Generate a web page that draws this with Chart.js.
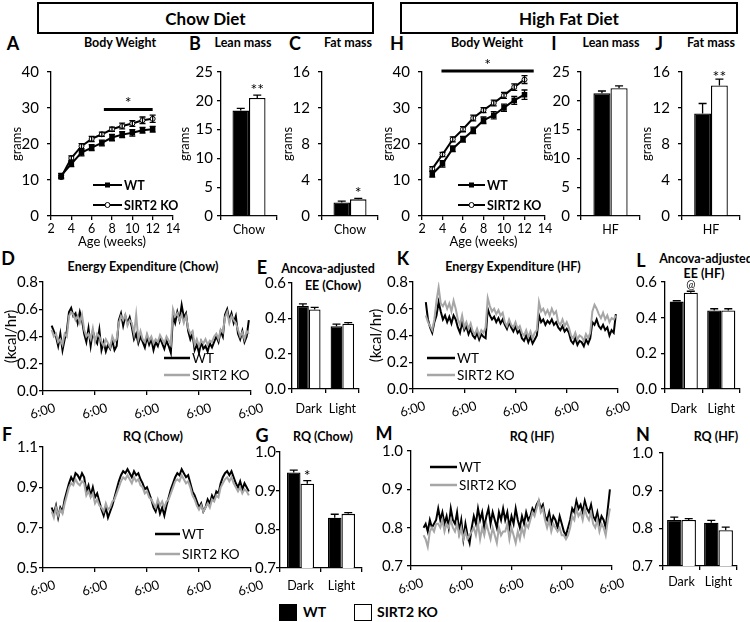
<!DOCTYPE html>
<html>
<head>
<meta charset="utf-8">
<script src="https://cdn.jsdelivr.net/npm/chart.js@4/dist/chart.umd.min.js"></script>
<style>
  body { margin: 0; background: #fff; font-family: Lato, sans-serif; }
  #fig { position: relative; width: 750px; height: 622px; overflow: hidden; }
  #fig canvas { position: absolute; }
  .tx { position: absolute; white-space: nowrap; color: #000; line-height: 1; }
  .box { position: absolute; border: 2px solid #000; box-sizing: border-box; display: flex;
         align-items: center; justify-content: center; font-weight: bold; font-size: 17px; }
  .sq { position: absolute; border: 1.5px solid #000; box-sizing: border-box; }
</style>
</head>
<body>
<div id="fig"></div>
<script>
// ---- data ----
const weeks = [3, 4, 5, 6, 7, 8, 9, 10, 11, 12];
const chowBwWT = [11.2, 14.5, 17.6, 19.0, 20.3, 21.8, 22.6, 23.1, 23.8, 24.1];
const chowBwWTErr = [0.6, 0.8, 0.9, 0.8, 0.8, 0.9, 0.8, 0.9, 0.8, 0.8];
const chowBwKO = [10.8, 16.1, 19.4, 21.4, 22.7, 24.1, 25.0, 25.7, 26.6, 27.0];
const chowBwKOErr = [0.5, 0.6, 0.7, 0.7, 0.6, 0.6, 0.8, 0.8, 0.9, 1.0];
const hfBwWT = [11.6, 14.5, 18.7, 21.3, 23.8, 26.6, 28.0, 30.1, 32.1, 33.7];
const hfBwWTErr = [0.8, 0.9, 0.8, 0.8, 0.9, 0.9, 1.0, 1.0, 1.1, 1.3];
const hfBwKO = [13.1, 17.1, 21.3, 24.1, 27.2, 29.4, 31.4, 33.5, 35.8, 37.9];
const hfBwKOErr = [0.6, 0.6, 0.7, 0.7, 0.8, 0.7, 0.8, 0.8, 0.9, 1.1];

const chowCat = ['Chow'];
const hfCat = ['HF'];
const phases = ['Dark', 'Light'];

const chowLeanWT = [18.3], chowLeanWTErr = [0.4], chowLeanKO = [20.5], chowLeanKOErr = [0.5];
const chowFatWT = [1.5], chowFatWTErr = [0.15], chowFatKO = [1.85], chowFatKOErr = [0.1];
const hfLeanWT = [21.3], hfLeanWTErr = [0.4], hfLeanKO = [22.2], hfLeanKOErr = [0.4];
const hfFatWT = [11.4], hfFatWTErr = [1.1], hfFatKO = [14.5], hfFatKOErr = [0.7];

const eeChowWT = [0.47, 0.355], eeChowWTErr = [0.012, 0.012];
const eeChowKO = [0.45, 0.37], eeChowKOErr = [0.012, 0.006];
const eeHfWT = [0.49, 0.44], eeHfWTErr = [0.005, 0.01];
const eeHfKO = [0.54, 0.44], eeHfKOErr = [0.008, 0.01];
const rqChowWT = [0.947, 0.83], rqChowWTErr = [0.006, 0.009];
const rqChowKO = [0.918, 0.84], rqChowKOErr = [0.008, 0.003];
const rqHfWT = [0.822, 0.815], rqHfWTErr = [0.008, 0.006];
const rqHfKO = [0.822, 0.795], rqHfKOErr = [0.004, 0.008];

// hourly traces, hours counted from the first 6:00
const eeChowStart = 4;
const eeChowTraceWT = [0.48,0.44,0.40,0.33,0.42,0.30,0.38,0.44, 0.58,0.61,0.55,0.57,0.50,0.58,0.52,
  0.42,0.36,0.46,0.33,0.44,0.38,0.35,0.45, 0.30,0.36,0.29,0.34,0.31,0.37,0.30,0.33,
  0.52,0.57,0.48,0.55,0.50,0.54,0.47, 0.38,0.42,0.35,0.40,
  0.36,0.32,0.40,0.34,0.38,0.30,0.36,0.33,0.39,0.35,0.31,0.37,0.33,0.28,
  0.55,0.50,0.58,0.52,0.63,0.54,0.57, 0.44,0.38,0.42,
  0.30,0.34,0.28,0.36,0.31,0.33,0.29,0.35,0.32,0.36, 0.40,0.36,0.44,0.40,
  0.56,0.60,0.52,0.57,0.50,0.55, 0.42,0.38,0.44,0.36,0.40,0.52];
const eeChowTraceKO = [0.45,0.40,0.42,0.36,0.38,0.34,0.42,0.40, 0.55,0.58,0.56,0.52,0.55,0.50,0.56,
  0.45,0.40,0.42,0.38,0.46,0.36,0.42,0.40, 0.36,0.33,0.38,0.35,0.32,0.40,0.36,0.38,
  0.50,0.55,0.52,0.56,0.48,0.52,0.50, 0.42,0.56,0.38,0.44,
  0.38,0.36,0.42,0.37,0.40,0.35,0.38,0.36,0.41,0.38,0.35,0.40,0.37,0.34,
  0.60,0.55,0.57,0.52,0.56,0.50,0.55, 0.46,0.42,0.44,
  0.34,0.38,0.33,0.37,0.35,0.38,0.34,0.37,0.36,0.40, 0.42,0.38,0.45,0.43,
  0.54,0.58,0.50,0.55,0.52,0.50, 0.45,0.40,0.43,0.38,0.44,0.42];

const eeHfStart = 6;
const eeHfTraceWT = [0.65,0.52,0.46,0.42,0.50, 0.55,0.65,0.58, 0.52,0.55,0.50,0.54,0.49,0.55,0.52,
  0.46,0.42,0.50,0.44,0.47,0.41,0.45, 0.40,0.38,0.42,0.37,0.41,0.39,0.38,
  0.60,0.55,0.52,0.54,0.50,0.53,0.49,0.52, 0.48,0.45,0.50,0.46,0.43,0.47,0.42,0.44,
  0.38,0.36,0.40,0.35,0.39,0.34,0.37,0.40, 0.55,0.50,0.52,0.48,0.51,0.49,0.52,0.48,0.50,
  0.46,0.44,0.47,0.43,0.45,0.42, 0.36,0.34,0.38,0.33,0.36,0.35,0.32,0.37,0.34,0.38,
  0.50,0.48,0.52, 0.47,0.45,0.48,0.44,0.46,0.40,0.44,0.42,0.56];
const eeHfTraceKO = [0.55,0.50,0.47,0.44,0.52, 0.66,0.76,0.64, 0.62,0.65,0.60,0.64,0.58,0.66,0.60,
  0.52,0.48,0.55,0.46,0.50,0.45,0.49, 0.43,0.41,0.45,0.40,0.44,0.42,0.46,
  0.68,0.62,0.58,0.60,0.56,0.59,0.55,0.57, 0.50,0.47,0.52,0.48,0.46,0.50,0.45,0.47,
  0.42,0.40,0.44,0.39,0.43,0.38,0.42,0.44, 0.65,0.58,0.60,0.56,0.59,0.55,0.60,0.56,0.58,
  0.50,0.48,0.52,0.47,0.50,0.46, 0.40,0.38,0.42,0.37,0.40,0.39,0.36,0.41,0.38,0.42,
  0.58,0.63,0.60, 0.56,0.53,0.57,0.52,0.55,0.50,0.53,0.52,0.55];

const rqChowStart = 4;
const rqChowTraceWT = [0.80,0.77,0.81,0.75,0.80,0.78, 0.84,0.88,0.92,0.95,0.93,0.97, 0.96,0.94,0.97,0.95,
  0.88,0.91,0.86,0.90, 0.85,0.87,0.83, 0.79,0.76,0.80,0.75,0.78,0.81,
  0.85,0.89,0.93,0.96,0.98,0.97,0.99, 0.97,0.95,0.98,0.96,0.97,0.94, 0.92,0.89,0.90,0.87,
  0.84,0.80,0.78,0.82,0.77,0.80,0.76,0.81, 0.85,0.89,0.92,0.95,0.97,0.96,0.99, 0.97,0.95,0.96,
  0.92,0.88,0.86,0.83,0.80,0.82,0.78,0.80, 0.84,0.82,0.86,0.84,0.88,0.87,0.92,
  0.95,0.97,0.98,0.96,0.98,0.95, 0.92,0.90,0.93,0.89,0.92,0.90,0.88];
const rqChowTraceKO = [0.78,0.75,0.80,0.76,0.79,0.77, 0.82,0.86,0.90,0.92,0.91,0.94, 0.92,0.91,0.93,0.92,
  0.86,0.88,0.85,0.87, 0.82,0.84,0.81, 0.80,0.78,0.82,0.79,0.80,0.83,
  0.84,0.87,0.90,0.93,0.95,0.94,0.96, 0.94,0.92,0.95,0.93,0.94,0.91, 0.90,0.87,0.88,0.85,
  0.84,0.82,0.80,0.84,0.81,0.83,0.80,0.83, 0.84,0.87,0.90,0.93,0.94,0.93,0.96, 0.94,0.92,0.93,
  0.90,0.86,0.84,0.81,0.79,0.81,0.78,0.80, 0.82,0.80,0.84,0.83,0.86,0.85,0.90,
  0.92,0.94,0.95,0.93,0.95,0.92, 0.90,0.88,0.90,0.87,0.89,0.88,0.86];

const rqHfStart = 6;
const rqHfTraceWT = [0.80,0.81,0.79,0.82,0.80,0.81,0.82, 0.85,0.82,0.84,0.81,0.83,0.80,0.85,0.82,0.81,0.84,
  0.79,0.82,0.77,0.81,0.78,0.76,0.80,
  0.83,0.81,0.85,0.82,0.84,0.80,0.83,0.85,0.81,0.84,0.82,0.80,0.84,0.82,0.85,
  0.82,0.84,0.80,0.83,0.81,0.85,0.82,0.80,0.83,0.81,0.84,0.82,
  0.83,0.85,0.84,0.86,0.87,0.85,0.86, 0.83,0.82,0.84,0.81,0.83,0.82,0.80,0.83,0.81,0.79,
  0.78,0.80,0.82, 0.85,0.84,0.87,0.85,0.86,0.84,0.87,0.85,0.84,0.86,
  0.83,0.82,0.84,0.81,0.83,0.82,0.80,0.85,0.90];
const rqHfTraceKO = [0.78,0.77,0.75,0.79,0.80,0.79,0.81, 0.81,0.80,0.82,0.79,0.81,0.80,0.82,0.80,0.79,0.81,
  0.78,0.80,0.77,0.79,0.77,0.78,0.79,
  0.80,0.78,0.81,0.77,0.80,0.78,0.81,0.79,0.77,0.80,0.78,0.76,0.80,0.78,0.79,
  0.79,0.81,0.77,0.80,0.78,0.76,0.79,0.77,0.80,0.78,0.81,0.80,
  0.82,0.84,0.83,0.85,0.87,0.84,0.85, 0.82,0.80,0.82,0.79,0.81,0.80,0.79,0.80,0.78,0.78,
  0.77,0.78,0.80, 0.83,0.82,0.85,0.83,0.84,0.82,0.85,0.83,0.82,0.84,
  0.81,0.80,0.82,0.79,0.81,0.80,0.78,0.82,0.85];

// ---- setup ----
Chart.defaults.font.family = 'Lato';
Chart.defaults.color = '#000';
const fig = document.getElementById('fig');
const GRAY = '#a6a6a6';

function text(str, x, y, size, bold, align) {
  const d = document.createElement('div');
  d.className = 'tx';
  d.textContent = str;
  d.style.left = x + 'px';
  d.style.top = y + 'px';
  d.style.fontSize = size + 'px';
  d.style.fontWeight = bold ? 'bold' : 'normal';
  d.style.transform = align === 'l' ? 'translate(0,-50%)' : 'translate(-50%,-50%)';
  fig.appendChild(d);
}

// error bars: bars get a cap above, line points get both sides
const errorBars = {
  id: 'errorBars',
  afterDatasetsDraw(chart) {
    const ctx = chart.ctx, ys = chart.scales.y;
    const both = chart.config.type === 'line';
    chart.data.datasets.forEach((ds, di) => {
      if (!ds.errors) return;
      const cap = both ? 3 : 4;
      ctx.save();
      ctx.strokeStyle = '#000';
      ctx.lineWidth = 1.3;
      chart.getDatasetMeta(di).data.forEach((el, i) => {
        const raw = ds.data[i];
        const v = typeof raw === 'object' ? raw.y : raw;
        const e = ds.errors[i];
        const yt = ys.getPixelForValue(v + e);
        const yb = ys.getPixelForValue(both ? v - e : v);
        ctx.beginPath();
        ctx.moveTo(el.x, yb); ctx.lineTo(el.x, yt);
        ctx.moveTo(el.x - cap, yt); ctx.lineTo(el.x + cap, yt);
        if (both) { ctx.moveTo(el.x - cap, yb); ctx.lineTo(el.x + cap, yb); }
        ctx.stroke();
      });
      ctx.restore();
    });
  }
};

// stars and significance bars
const sigMarks = {
  id: 'sigMarks',
  afterDraw(chart, args, o) {
    if (!o || !o.marks) return;
    const ctx = chart.ctx, xs = chart.scales.x, ys = chart.scales.y;
    ctx.save();
    ctx.fillStyle = '#000';
    ctx.strokeStyle = '#000';
    ctx.textAlign = 'center';
    ctx.textBaseline = 'alphabetic';
    o.marks.forEach(m => {
      ctx.font = (m.size || 16) + 'px Lato';
      if (m.ds !== undefined) {
        const ds = chart.data.datasets[m.ds];
        const el = chart.getDatasetMeta(m.ds).data[m.i];
        const top = ys.getPixelForValue(ds.data[m.i] + ds.errors[m.i]);
        ctx.fillText(m.text, el.x, top + (m.dy || 0));
      } else {
        const x0 = xs.getPixelForValue(m.from), x1 = xs.getPixelForValue(m.to);
        const y = ys.getPixelForValue(m.at);
        ctx.lineWidth = 3;
        ctx.beginPath(); ctx.moveTo(x0, y); ctx.lineTo(x1, y); ctx.stroke();
        ctx.fillText(m.text, (x0 + x1) / 2, y - 1);
      }
    });
    ctx.restore();
  }
};

// small legend drawn inside a panel, rows in page coordinates
const lineKey = {
  id: 'lineKey',
  afterDraw(chart, args, o) {
    if (!o || !o.rows) return;
    const ctx = chart.ctx, ox = chart.canvas.offsetLeft, oy = chart.canvas.offsetTop;
    ctx.save();
    ctx.font = (o.bold ? 'bold ' : '') + o.size + 'px Lato';
    ctx.textBaseline = 'middle';
    chart.data.datasets.forEach((ds, i) => {
      const y = o.rows[i] - oy, x0 = o.x0 - ox, x1 = o.x1 - ox;
      ctx.strokeStyle = ds.borderColor;
      ctx.lineWidth = o.lw || ds.borderWidth;
      ctx.beginPath(); ctx.moveTo(x0, y); ctx.lineTo(x1, y); ctx.stroke();
      if (ds.pointRadius) {
        const mx = (x0 + x1) / 2, r = ds.pointRadius;
        ctx.fillStyle = ds.pointBackgroundColor;
        ctx.strokeStyle = '#000';
        ctx.lineWidth = 1;
        if (ds.pointStyle === 'rect') { ctx.fillRect(mx - r, y - r, 2 * r, 2 * r); }
        else { ctx.beginPath(); ctx.arc(mx, y, r, 0, Math.PI * 2); ctx.fill(); ctx.stroke(); }
      }
      ctx.fillStyle = '#000';
      ctx.fillText(ds.label, x1 + 2, y + 1);
    });
    ctx.restore();
  }
};

function panel(box, cfg) {
  const c = document.createElement('canvas');
  const L = box.l - box.lw, T = box.t - box.tp;
  c.width = box.r + box.rp - L;
  c.height = box.b + box.bh - T;
  c.style.left = L + 'px';
  c.style.top = T + 'px';
  fig.appendChild(c);
  const o = cfg.options;
  o.responsive = false;
  o.animation = false;
  o.layout = { padding: { top: box.tp, right: box.rp, left: 0, bottom: 0 } };
  o.scales.y.afterFit = s => { s.width = box.lw; };
  o.scales.x.afterFit = s => { s.height = box.bh; };
  o.plugins = Object.assign({ legend: { display: false }, tooltip: { enabled: false } }, o.plugins || {});
  cfg.plugins = [errorBars, sigMarks, lineKey];
  return new Chart(c, cfg);
}

const axGrid = { drawOnChartArea: false, tickLength: 4, color: '#000', lineWidth: 1.3 };
const axBorder = { color: '#000', width: 1.3 };

function yAx(min, max, step, dec, pad, title) {
  return {
    min, max,
    ticks: { stepSize: step, padding: pad, font: { size: 15 }, callback: v => dec ? Number(v).toFixed(dec) : v },
    grid: axGrid, border: axBorder,
    title: { display: !!title, text: title || '', font: { size: title === 'grams' ? 13 : 15 }, padding: 0 }
  };
}
function catAx(pad) {
  return { ticks: { padding: pad, font: { size: 12.5 } }, grid: Object.assign({ offset: true }, axGrid), border: axBorder };
}
function timeAx() {
  return {
    type: 'linear', min: 0, max: 96,
    ticks: { stepSize: 24, autoSkip: false, minRotation: 17, maxRotation: 17, labelOffset: 12, padding: 5,
             font: { size: 13 }, callback: () => '6:00' },
    grid: axGrid, border: axBorder
  };
}
function weekAx() {
  return {
    type: 'linear', min: 2, max: 14,
    ticks: { stepSize: 2, padding: 1, autoSkip: false, minRotation: 0, maxRotation: 0, font: { size: 12.5 } },
    grid: axGrid, border: axBorder,
    title: { display: true, text: 'Age (weeks)', font: { size: 13 }, padding: 0 }
  };
}

function bars(cats, wt, wtErr, ko, koErr) {
  return {
    labels: cats,
    datasets: [
      { label: 'WT', data: wt, errors: wtErr, backgroundColor: '#000', borderColor: '#000', borderWidth: 1.3 },
      { label: 'SIRT2 KO', data: ko, errors: koErr, backgroundColor: '#fff', borderColor: '#000', borderWidth: 1.3 }
    ]
  };
}
function growth(wt, wtErr, ko, koErr) {
  return {
    datasets: [
      { label: 'WT', data: weeks.map((w, i) => ({ x: w, y: wt[i] })), errors: wtErr,
        borderColor: '#000', borderWidth: 2, pointStyle: 'rect', pointRadius: 2.5,
        pointBackgroundColor: '#000', pointBorderColor: '#000', tension: 0 },
      { label: 'SIRT2 KO', data: weeks.map((w, i) => ({ x: w, y: ko[i] })), errors: koErr,
        borderColor: '#000', borderWidth: 2, pointStyle: 'circle', pointRadius: 2.5,
        pointBackgroundColor: '#fff', pointBorderColor: '#000', pointBorderWidth: 1, tension: 0 }
    ]
  };
}
function traces(start, wt, ko) {
  return {
    datasets: [
      { label: 'WT', data: wt.map((v, i) => ({ x: start + i, y: v })), borderColor: '#000',
        borderWidth: 2, pointRadius: 0, tension: 0, order: 1 },
      { label: 'SIRT2 KO', data: ko.map((v, i) => ({ x: start + i, y: v })), borderColor: GRAY,
        borderWidth: 2, pointRadius: 0, tension: 0, order: 0 }
    ]
  };
}
function barOpts(cp, y, pad, marks) {
  return {
    datasets: { bar: { categoryPercentage: cp, barPercentage: 1 } },
    scales: { x: catAx(pad), y },
    plugins: { sigMarks: { marks } }
  };
}

// ---- header and labels ----
[['Chow Diet', 37, 337], ['High Fat Diet', 400, 338]].forEach(([s, x, w]) => {
  const d = document.createElement('div');
  d.className = 'box';
  d.textContent = s;
  Object.assign(d.style, { left: x + 'px', top: '2px', width: w + 'px', height: '32px' });
  fig.appendChild(d);
});
[['A', 13, 43], ['B', 195, 43], ['C', 295, 43], ['H', 397, 43], ['I', 554, 43], ['J', 659, 43],
 ['D', 8, 258], ['E', 262, 267], ['K', 403, 258], ['L', 641, 260],
 ['F', 7, 434], ['G', 262, 435], ['M', 384, 433], ['N', 643, 434]]
  .forEach(([s, x, y]) => text(s, x, y, 18, true));
[['Body Weight', 120, 43], ['Lean mass', 243, 43], ['Fat mass', 348, 43],
 ['Body Weight', 487, 43], ['Lean mass', 611, 43], ['Fat mass', 711, 43],
 ['Energy Expenditure (Chow)', 143, 267], ['Ancova-adjusted', 328, 269], ['EE (Chow)', 333, 286],
 ['Energy Expenditure (HF)', 513, 267], ['Ancova-adjusted', 706, 259], ['EE (HF)', 704, 274],
 ['RQ (Chow)', 153, 437], ['RQ (Chow)', 323, 437], ['RQ (HF)', 532, 437], ['RQ (HF)', 716, 437]]
  .forEach(([s, x, y]) => text(s, x, y, 12.5, true));

// bottom key
[[279, '#000', 'WT', 303], [354, '#fff', 'SIRT2 KO', 377]].forEach(([x, c, s, tx]) => {
  const q = document.createElement('div');
  q.className = 'sq';
  Object.assign(q.style, { left: x + 'px', top: '604px', width: '18px', height: '17px', background: c });
  fig.appendChild(q);
  text(s, tx, 612, 14, true, 'l');
});

// ---- panels ----
// A
panel({ l: 51, t: 72, r: 173, b: 216, lw: 42, bh: 34, tp: 20, rp: 14 }, {
  type: 'line', data: growth(chowBwWT, chowBwWTErr, chowBwKO, chowBwKOErr),
  options: { scales: { x: weekAx(), y: yAx(0, 40, 10, 0, 8, 'grams') },
    plugins: { sigMarks: { marks: [{ from: 7.2, to: 12, at: 29.6, text: '*' }] },
               lineKey: { x0: 93, x1: 122, rows: [185, 205], size: 12.5, bold: true } } }
});
// B
panel({ l: 221, t: 72, r: 277, b: 216, lw: 44, bh: 20, tp: 20, rp: 4 }, {
  type: 'bar', data: bars(chowCat, chowLeanWT, chowLeanWTErr, chowLeanKO, chowLeanKOErr),
  options: barOpts(0.59, yAx(0, 25, 5, 0, 4, 'grams'), 2, [{ ds: 1, i: 0, text: '**' }])
});
// C
panel({ l: 322, t: 72, r: 378, b: 216, lw: 42, bh: 20, tp: 20, rp: 4 }, {
  type: 'bar', data: bars(chowCat, chowFatWT, chowFatWTErr, chowFatKO, chowFatKOErr),
  options: barOpts(0.59, yAx(0, 16, 2, 0, 8, 'grams'), 2, [{ ds: 1, i: 0, text: '*' }])
});
// H
panel({ l: 422, t: 72, r: 545, b: 216, lw: 42, bh: 34, tp: 20, rp: 14 }, {
  type: 'line', data: growth(hfBwWT, hfBwWTErr, hfBwKO, hfBwKOErr),
  options: { scales: { x: weekAx(), y: yAx(0, 40, 10, 0, 8, 'grams') },
    plugins: { sigMarks: { marks: [{ from: 3.9, to: 12.9, at: 40.3, text: '*' }] },
               lineKey: { x0: 458, x1: 485, rows: [185, 205], size: 12.5, bold: true } } }
});
// I
panel({ l: 581, t: 72, r: 640, b: 216, lw: 42, bh: 20, tp: 20, rp: 4 }, {
  type: 'bar', data: bars(hfCat, hfLeanWT, hfLeanWTErr, hfLeanKO, hfLeanKOErr),
  options: barOpts(0.58, yAx(0, 25, 5, 0, 7, 'grams'), 2, [])
});
// J
panel({ l: 682, t: 72, r: 740, b: 216, lw: 43, bh: 20, tp: 20, rp: 8 }, {
  type: 'bar', data: bars(hfCat, hfFatWT, hfFatWTErr, hfFatKO, hfFatKOErr),
  options: barOpts(0.58, yAx(0, 16, 2, 0, 8, 'grams'), 2, [{ ds: 1, i: 0, text: '**', dy: 3 }])
});
// D
panel({ l: 43, t: 282, r: 251, b: 391, lw: 41, bh: 30, tp: 10, rp: 16 }, {
  type: 'line', data: traces(eeChowStart, eeChowTraceWT, eeChowTraceKO),
  options: { scales: { x: timeAx(), y: yAx(0, 0.8, 0.2, 1, 1, '(kcal/hr)') },
    plugins: { lineKey: { x0: 164, x1: 190, rows: [358, 375], size: 13.5, lw: 2.5 } } }
});
// E
panel({ l: 292, t: 282, r: 361, b: 389, lw: 30, bh: 28, tp: 10, rp: 4 }, {
  type: 'bar', data: bars(phases, eeChowWT, eeChowWTErr, eeChowKO, eeChowKOErr),
  options: barOpts(0.7, yAx(0, 0.6, 0.2, 1, 2), 8, [])
});
// K
panel({ l: 413, t: 282, r: 618, b: 389, lw: 46, bh: 30, tp: 10, rp: 16 }, {
  type: 'line', data: traces(eeHfStart, eeHfTraceWT, eeHfTraceKO),
  options: { scales: { x: timeAx(), y: yAx(0, 0.8, 0.2, 1, 1, '(kcal/hr)') },
    plugins: { lineKey: { x0: 427, x1: 455, rows: [358, 375], size: 13.5, lw: 2.5 } } }
});
// L
panel({ l: 665, t: 282, r: 740, b: 389, lw: 30, bh: 28, tp: 16, rp: 8 }, {
  type: 'bar', data: bars(phases, eeHfWT, eeHfWTErr, eeHfKO, eeHfKOErr),
  options: barOpts(0.75, yAx(0, 0.6, 0.2, 1, 4), 8, [{ ds: 1, i: 0, text: '@', size: 11, dy: -3 }])
});
// F
panel({ l: 43, t: 447, r: 251, b: 568, lw: 41, bh: 30, tp: 10, rp: 16 }, {
  type: 'line', data: traces(rqChowStart, rqChowTraceWT, rqChowTraceKO),
  options: { scales: { x: timeAx(), y: yAx(0.5, 1.1, 0.2, 1, 1) },
    plugins: { lineKey: { x0: 155, x1: 180, rows: [534, 554], size: 13.5, lw: 2.5 } } }
});
// G
panel({ l: 280, t: 452, r: 362, b: 568, lw: 30, bh: 26, tp: 10, rp: 4 }, {
  type: 'bar', data: bars(phases, rqChowWT, rqChowWTErr, rqChowKO, rqChowKOErr),
  options: barOpts(0.66, yAx(0.7, 1.0, 0.1, 1, 0), 6, [{ ds: 1, i: 0, text: '*' }])
});
// M
panel({ l: 411, t: 448, r: 612, b: 566, lw: 40, bh: 30, tp: 10, rp: 16 }, {
  type: 'line', data: traces(rqHfStart, rqHfTraceWT, rqHfTraceKO),
  options: { scales: { x: timeAx(), y: yAx(0.7, 1.0, 0.1, 1, 4) },
    plugins: { lineKey: { x0: 430, x1: 457, rows: [467, 485], size: 13.5, lw: 2.5 } } }
});
// N
panel({ l: 663, t: 448, r: 737, b: 566, lw: 30, bh: 26, tp: 10, rp: 8 }, {
  type: 'bar', data: bars(phases, rqHfWT, rqHfWTErr, rqHfKO, rqHfKOErr),
  options: barOpts(0.78, yAx(0.7, 1.0, 0.1, 1, 6), 4, [])
});
</script>
</body>
</html>
